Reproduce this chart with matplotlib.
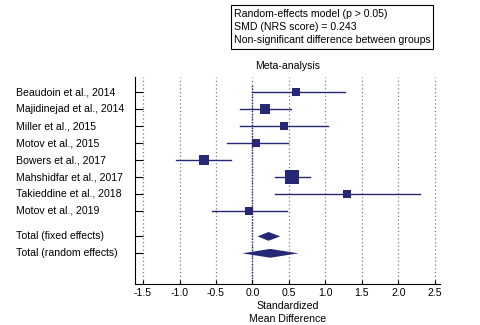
import matplotlib
matplotlib.use("Agg")
import matplotlib.pyplot as plt
import matplotlib.transforms as mtransforms
from matplotlib.patches import Rectangle
import numpy as np

plt.rcParams['font.family'] = ['Liberation Sans', 'DejaVu Sans']
plt.rcParams['font.size'] = 7.6

# study data (SMD, 95% CI, weight %)
studies = ["Beaudoin et al., 2014", "Majidinejad et al., 2014", "Miller et al., 2015",
           "Motov et al., 2015", "Bowers et al., 2017", "Mahshidfar et al., 2017",
           "Takieddine et al., 2018", "Motov et al., 2019"]
smd = [0.60, 0.17, 0.43, 0.05, -0.67, 0.54, 1.30, -0.05]
ci_low = [-0.01, -0.17, -0.17, -0.35, -1.05, 0.31, 0.31, -0.55]
ci_high = [1.27, 0.53, 1.03, 0.48, -0.29, 0.79, 2.30, 0.47]
weights = [8.7, 13.6, 8.7, 11.0, 13.6, 26.7, 6.7, 11.0]

totals = ["Total (fixed effects)", "Total (random effects)"]
tot_smd = [0.22, 0.243]
tot_low = [0.07, -0.14]
tot_high = [0.38, 0.63]

xticks = [-1.5, -1.0, -0.5, 0.0, 0.5, 1.0, 1.5, 2.0, 2.5]
xlabel_lines = ["Standardized", "Mean Difference"]
box_lines = ["Random-effects model (p > 0.05)",
             "SMD (NRS score) = 0.243",
             "Non-significant difference between groups"]

col = '#262875'

fig = plt.figure(figsize=(4.81, 3.25), dpi=100)
ax = fig.add_axes([135/481, 1-284/325, 305/481, 207/325])

rows = np.arange(1, len(studies)+1)
tot_rows = [len(studies)+1.5, len(studies)+2.5]

for x in xticks:
    ax.axvline(x, color='#808080', ls=(0, (1, 2)), lw=0.9, zorder=0)
ax.axvline(0, ymin=0, ymax=0.961, color=col, ls=(0, (1, 1)), lw=1, zorder=1)

for i in range(len(studies)):
    ax.plot([ci_low[i], ci_high[i]], [rows[i], rows[i]], color=col, lw=1, zorder=2)
    ms = 2.71*np.sqrt(weights[i])*0.72
    ax.plot(smd[i], rows[i], 's', color=col, ms=ms, mew=0, zorder=3)

for j in range(2):
    y = tot_rows[j]
    h = 0.26
    ax.fill([tot_low[j], tot_smd[j], tot_high[j], tot_smd[j]],
            [y, y-h, y, y+h], color=col, lw=0, zorder=3)

ax.set_xlim(-1.61, 2.57)
ax.set_ylim(12.31, 0.097)
ax.set_xticks(xticks)
ax.set_xticklabels(["%.1f" % v for v in xticks])
ax.set_yticks(list(rows) + tot_rows)
ax.set_yticklabels([])
ax.tick_params(axis='y', direction='in', length=5.5, width=0.8)
ax.tick_params(axis='x', direction='in', length=3, width=0.8, pad=3)
ax.spines['top'].set_visible(False)
ax.spines['right'].set_visible(False)
ax.spines['left'].set_linewidth(0.8)
ax.spines['bottom'].set_linewidth(0.8)

ax.set_title("Meta-analysis", fontsize=7.6, pad=6)
for k, line in enumerate(xlabel_lines):
    fig.text(287.5/481, 1-(306+13*k)/325, line, ha='center', va='center')

trans = mtransforms.blended_transform_factory(fig.transFigure, ax.transData)
for lab, y in zip(studies + totals, list(rows) + tot_rows):
    ax.text(15.7/481, y, lab, transform=trans, ha='left', va='center')

fig.patches.append(Rectangle((231/481, 1-49/325), 202/481, 44.5/325, transform=fig.transFigure,
                             fill=False, edgecolor='black', lw=0.8))
for k, line in enumerate(box_lines):
    fig.text(234/481, 1-(14+12.8*k)/325, line, ha='left', va='center')

fig.savefig("out.png", dpi=100)
